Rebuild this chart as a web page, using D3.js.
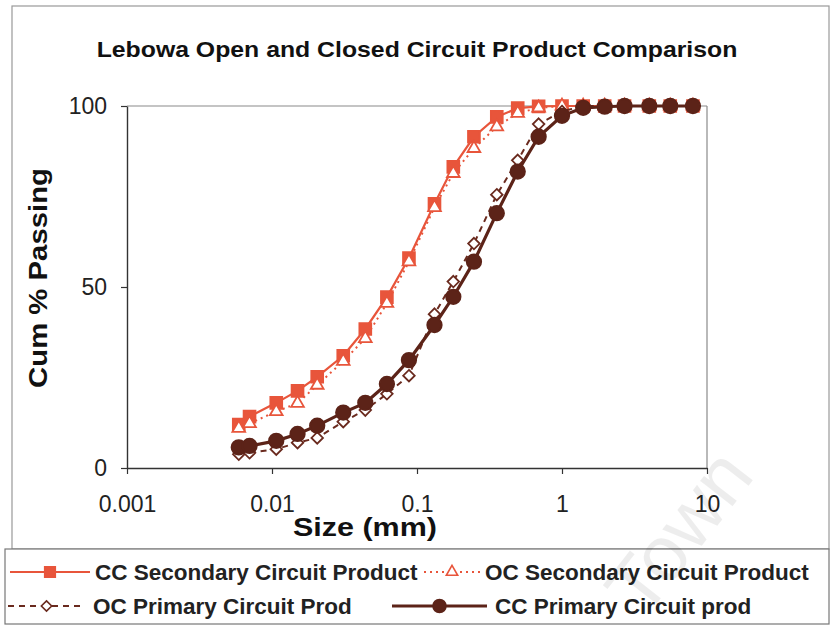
<!DOCTYPE html>
<html>
<head>
<meta charset="utf-8">
<script src="https://cdn.jsdelivr.net/npm/d3@7"></script>
<style>
  body { margin: 0; background: #fff; }
  text { font-family: "Liberation Sans", Arial, sans-serif; }
</style>
</head>
<body>
<svg id="chart"></svg>
<script>
// sieve sizes (mm), shared by all four curves
const sizes = [0.0059, 0.007, 0.0107, 0.015, 0.0205, 0.031, 0.044, 0.062, 0.088, 0.132, 0.178, 0.247, 0.355, 0.495, 0.69, 1.0, 1.4, 1.97, 2.7, 4.0, 5.58, 8.0];

// cumulative % passing
const ccSecondary = [12, 14.2, 18, 21.3, 25.2, 31, 38.4, 47.2, 58, 73, 83.2, 91.5, 97, 99.4, 99.9, 100, 100, 100, 100, 100, 100, 100];
const ocSecondary = [11, 12.3, 15.6, 17.9, 22.9, 29.5, 35.8, 45.5, 57, 72, 81.4, 88.3, 94.3, 98, 99.5, 100, 100, 100, 100, 100, 100, 100];
const ocPrimary = [3.8, 4.2, 5.2, 7, 8.3, 12.8, 16, 20.5, 25.5, 42.5, 51.5, 62, 75.5, 85, 95, 98.5, 100, 100, 100, 100, 100, 100];
const ccPrimary = [5.7, 6.1, 7.5, 9.4, 11.7, 15.3, 18, 23.2, 29.8, 39.5, 47.3, 57, 70.4, 81.9, 91.5, 97.3, 99.5, 99.8, 100, 100, 100, 100];

const xTicks = [0.001, 0.01, 0.1, 1, 10];
const yTicks = [0, 50, 100];

const seriesNames = ["CC Secondary Circuit Product", "OC Secondary Circuit Product", "OC Primary Circuit Prod", "CC Primary Circuit prod"];

const width = 831;
const height = 630;
const red = "#e8553b";
const brown = "#5c2318";

const svg = d3.select("#chart").attr("width", width).attr("height", height);

const x = d3.scaleLog().domain([0.001, 10]).range([127, 707]);
const y = d3.scaleLinear().domain([0, 100]).range([468, 106]);

// stretch a bold label horizontally to the width it has in the scan
const stretchText = (sel, cx, cy, targetLen, rotate) => {
  const natural = sel.node().getComputedTextLength();
  const k = targetLen / natural;
  sel.attr("x", 0).attr("y", 0).attr("text-anchor", "middle")
    .attr("transform", `translate(${cx},${cy}) rotate(${rotate || 0}) scale(${k},1)`);
};

// outer chart border
svg.append("rect")
  .attr("x", 12).attr("y", 6).attr("width", 817).attr("height", 543)
  .attr("fill", "none").attr("stroke", "#999").attr("stroke-width", 1.2);

// title
const title = svg.append("text")
  .attr("font-size", 21.5).attr("font-weight", "bold")
  .attr("fill", "#111")
  .text("Lebowa Open and Closed Circuit Product Comparison");
stretchText(title, 417, 57, 641);

// plot frame (top and right)
svg.append("line").attr("x1", 127).attr("x2", 707).attr("y1", 106).attr("y2", 106)
  .attr("stroke", "#8a8a8a").attr("stroke-width", 1.2);
svg.append("line").attr("x1", 707).attr("x2", 707).attr("y1", 106).attr("y2", 468)
  .attr("stroke", "#8a8a8a").attr("stroke-width", 1.2);

// axes
const xAxis = svg.append("g")
  .attr("transform", "translate(0,468)")
  .call(d3.axisBottom(x).tickValues(xTicks).tickFormat(d3.format("~g")).tickSize(6).tickPadding(22).tickSizeOuter(0));
const yAxis = svg.append("g")
  .attr("transform", "translate(127,0)")
  .call(d3.axisLeft(y).tickValues(yTicks).tickSize(6).tickPadding(14).tickSizeOuter(0));

[xAxis, yAxis].forEach((g) => {
  g.select(".domain").attr("stroke", "#333").attr("stroke-width", 1.4);
  g.selectAll(".tick line").attr("stroke", "#333").attr("stroke-width", 1.2);
  g.selectAll(".tick text")
    .attr("font-size", 23).attr("fill", "#222")
    .style("font-family", "'Liberation Sans', Arial, sans-serif");
});

// axis titles
const xTitle = svg.append("text")
  .attr("font-size", 25).attr("font-weight", "bold")
  .attr("fill", "#111")
  .text("Size (mm)");
stretchText(xTitle, 365, 536, 144);

const yTitle = svg.append("text")
  .attr("font-size", 26).attr("font-weight", "bold")
  .attr("fill", "#111")
  .text("Cum % Passing");
stretchText(yTitle, 47, 278, 220, -90);

// series
const toPoints = (vals) => sizes.map((s, i) => [s, vals[i]]);
const line = d3.line().x((d) => x(d[0])).y((d) => y(d[1]));

const series = [
  { name: seriesNames[0], values: ccSecondary, color: red, width: 2.2, dash: null, symbol: d3.symbolSquare, size: 140, fill: red },
  { name: seriesNames[1], values: ocSecondary, color: red, width: 2, dash: "2,4", symbol: d3.symbolTriangle, size: 70, fill: "#fff" },
  { name: seriesNames[2], values: ocPrimary, color: "#6a2a1e", width: 2, dash: "6,5", symbol: d3.symbolDiamond2, size: 85, fill: "#fff" },
  { name: seriesNames[3], values: ccPrimary, color: brown, width: 3.2, dash: null, symbol: d3.symbolCircle, size: 165, fill: brown },
];

const g_series = svg.append("g").attr("class", "series");

series.forEach((s) => {
  const g = g_series.append("g");
  g.append("path")
    .datum(toPoints(s.values))
    .attr("d", line)
    .attr("fill", "none")
    .attr("stroke", s.color)
    .attr("stroke-width", s.width)
    .attr("stroke-dasharray", s.dash);
  g.selectAll("path.marker")
    .data(toPoints(s.values))
    .enter()
    .append("path")
    .attr("class", "marker")
    .attr("transform", (d) => `translate(${x(d[0])},${y(d[1])})`)
    .attr("d", d3.symbol().type(s.symbol).size(s.size))
    .attr("fill", s.fill)
    .attr("stroke", s.color)
    .attr("stroke-width", 1.8);
});

// legend
svg.append("rect")
  .attr("x", 5).attr("y", 549).attr("width", 824).attr("height", 75)
  .attr("fill", "#fff").attr("stroke", "#777").attr("stroke-width", 1.2);

const legendPos = [
  { x1: 10, x2: 90, tx: 95, ty: 572 },
  { x1: 424, x2: 480, tx: 485, ty: 572 },
  { x1: 8, x2: 85, tx: 93, ty: 606 },
  { x1: 392, x2: 487, tx: 495, ty: 606 },
];

series.forEach((s, i) => {
  const p = legendPos[i];
  const g = svg.append("g");
  g.append("line")
    .attr("x1", p.x1).attr("x2", p.x2).attr("y1", p.ty).attr("y2", p.ty)
    .attr("stroke", s.color).attr("stroke-width", s.width)
    .attr("stroke-dasharray", s.dash);
  g.append("path")
    .attr("transform", `translate(${(p.x1 + p.x2) / 2},${p.ty})`)
    .attr("d", d3.symbol().type(s.symbol).size(s.size * 0.8))
    .attr("fill", s.fill).attr("stroke", s.color).attr("stroke-width", 1.6);
  g.append("text")
    .attr("x", p.tx).attr("y", p.ty + 8)
    .attr("font-size", 22.5).attr("font-weight", "bold")
    .attr("fill", "#222")
    .text(s.name);
});

// faint scan watermark
svg.append("text")
  .attr("transform", "translate(700,548) rotate(-52)")
  .attr("text-anchor", "middle")
  .attr("font-size", 78)
  .attr("fill", "#000").attr("fill-opacity", 0.07)
  .text("Town");
</script>
</body>
</html>
